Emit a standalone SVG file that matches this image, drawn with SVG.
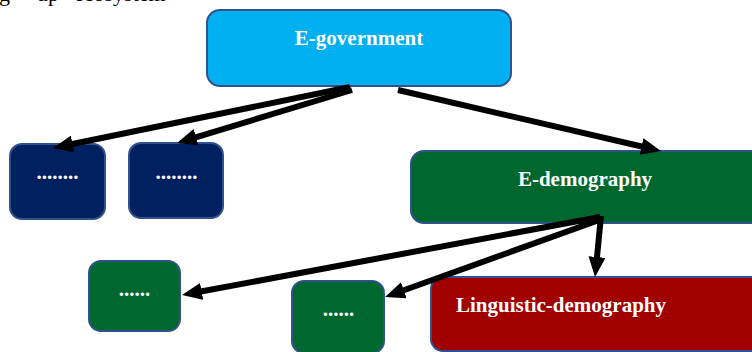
<svg xmlns="http://www.w3.org/2000/svg" width="752" height="352" viewBox="0 0 752 352">
<defs>
<style>
.box{stroke:#2F528F;stroke-width:2}
.lbl{font-family:"Liberation Serif","Times New Roman",serif;font-weight:bold;font-size:21px;fill:#FFFFFF}
.mid{text-anchor:middle}
.conn{stroke:#000;stroke-width:6;fill:none;marker-end:url(#ah)}
.frag{font-family:"Liberation Serif","Times New Roman",serif;font-size:22px;fill:#000}
</style>
<marker id="ah" markerUnits="userSpaceOnUse" viewBox="0 0 20 17" markerWidth="20" markerHeight="17" refX="9" refY="8.5" orient="auto">
<path d="M0,0 L20,8.5 L0,17 z" fill="#000"/>
</marker>
</defs>
<rect width="752" height="352" fill="#FFFFFF"/>
<text class="frag" y="0.5"><tspan x="-12">ng</tspan><tspan x="37">up</tspan><tspan x="74">ecosystem</tspan></text>

<g id="egov">
<rect class="box" x="207" y="10" width="304" height="76" rx="13" fill="#00B0F0"/>
<text class="lbl mid" x="359" y="45">E-government</text>
</g>
<g id="blue1">
<rect class="box" x="10" y="144" width="95" height="75" rx="12" fill="#002060"/>
<text class="lbl mid" x="57.5" y="179">........</text>
</g>
<g id="blue2">
<rect class="box" x="129" y="143" width="94" height="75" rx="12" fill="#002060"/>
<text class="lbl mid" x="176.5" y="179">........</text>
</g>
<g id="edemo">
<rect class="box" x="411" y="151" width="360" height="72" rx="13" fill="#00682F"/>
<text class="lbl mid" x="585" y="186">E-demography</text>
</g>
<g id="green1">
<rect class="box" x="89" y="261" width="91" height="70" rx="12" fill="#00682F"/>
<text class="lbl mid" x="134.5" y="296">......</text>
</g>
<g id="green2">
<rect class="box" x="292" y="281" width="92" height="72" rx="12" fill="#00682F"/>
<text class="lbl mid" x="338.5" y="316">......</text>
</g>
<g id="lingdemo">
<rect class="box" x="431" y="277" width="340" height="74" rx="12" fill="#A00000"/>
<text class="lbl" x="456" y="312">Linguistic-demography</text>
</g>

<g id="connectors">
<line class="conn" x1="350" y1="87" x2="63.8" y2="145.8"/>
<line class="conn" x1="352" y1="90" x2="187.5" y2="139.8"/>
<line class="conn" x1="398" y1="90" x2="650.3" y2="148.5"/>
<line class="conn" x1="601" y1="216" x2="596.1" y2="266"/>
<line class="conn" x1="600" y1="217" x2="192.8" y2="293"/>
<line class="conn" x1="602" y1="219" x2="395.4" y2="293.3"/>
</g>
</svg>
